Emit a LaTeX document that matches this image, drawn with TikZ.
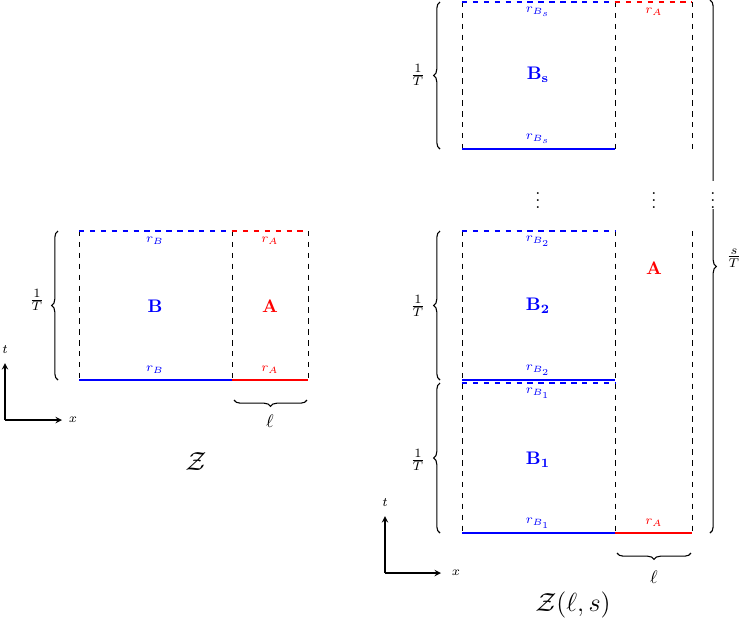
\documentclass[tikz,border=0pt]{standalone}
\usetikzlibrary{decorations.pathreplacing}
\begin{document}
\begin{tikzpicture}[x=0.55pt,y=-0.55pt,
  bl/.style={blue,line width=0.8pt},
  rd/.style={red,line width=0.8pt},
  vd/.style={dashed,black,line width=0.4pt},
  br/.style={decorate,decoration={brace,amplitude=3.5pt},line width=0.6pt},
  lab/.style={font=\scriptsize},
  ax/.style={->,line width=0.6pt,>=stealth}]
\useasboundingbox (0,0) rectangle (747,626);
% ---------- left
\draw[vd] (79,231)--(79,380) (232,231)--(232,380) (308,231)--(308,380);
\draw[bl,dashed] (79,231)--(232,231);
\draw[rd,dashed] (232,231)--(308,231);
\draw[bl] (79,380)--(232,380);
\draw[rd] (232,380)--(308,380);
\node[lab,blue] (lrb1) at (155,241) {$r_B$};
\node[lab,blue] (lrb2) at (155,370) {$r_B$};
\node[lab,red] (lra1) at (270,241) {$r_A$};
\node[lab,red] (lra2) at (270,370) {$r_A$};
\node[blue] (lB) at (155,306) {$\mathbf{B}$};
\node[red] (lA) at (270,306) {$\mathbf{A}$};
\draw[br] (58,380)--(58,231);
\node (lT) at (37,300) {$\frac{1}{T}$};
\draw[br] (307,400)--(234,400);
\node (ll) at (270,421) {$\ell$};
\coordinate (lo) at (5,420);
\draw[ax] (lo)--(5,363);
\draw[ax] (lo)--(62,420);
\node[lab] at (5,350) {$t$};
\node[lab] at (73,420) {$x$};
\node[font=\Large] (lZ) at (196,462) {$\mathcal{Z}$};
% ---------- right
\foreach \a/\b in {2/149,231/533}{
  \draw[vd] (462,\a)--(462,\b) (615,\a)--(615,\b) (692,\a)--(692,\b);}
\draw[bl,dashed] (462,2)--(615,2);
\draw[rd,dashed] (615,2)--(692,2);
\draw[bl] (462,149)--(615,149);
\draw[bl,dashed] (462,231)--(615,231);
\draw[bl] (462,380)--(615,380);
\draw[bl,dashed] (462,383)--(615,383);
\draw[bl] (462,533)--(615,533);
\draw[rd] (615,533)--(692,533);
\node[lab,blue] at (538,12) {$r_{B_s}$};
\node[lab,blue] at (538,139) {$r_{B_s}$};
\node[lab,red] at (654,12) {$r_A$};
\node[lab,blue] at (538,241) {$r_{B_2}$};
\node[lab,blue] at (538,370) {$r_{B_2}$};
\node[lab,blue] at (538,393) {$r_{B_1}$};
\node[lab,blue] at (538,523) {$r_{B_1}$};
\node[lab,red] at (654,523) {$r_A$};
\node[blue] (Bs) at (538,75) {$\mathbf{B_s}$};
\node[blue] (B2) at (538,306) {$\mathbf{B_2}$};
\node[blue] (B1) at (538,460) {$\mathbf{B_1}$};
\node[red] (rA) at (654,268) {$\mathbf{A}$};
\node[inner sep=0pt] at (538,195) {$\vdots$};
\node[inner sep=0pt] at (654,195) {$\vdots$};
\draw[br] (440,149)--(440,2);
\draw[br] (440,380)--(440,231);
\draw[br] (440,533)--(440,383);
\node at (418,75) {$\frac{1}{T}$};
\node at (418,306) {$\frac{1}{T}$};
\node at (418,460) {$\frac{1}{T}$};
\draw[br] (710,0)--(710,533);
\node[fill=white,inner sep=0pt] at (713,195) {$\vdots$};
\node at (734,258) {$\frac{s}{T}$};
\draw[br] (691,553)--(617,553);
\node at (654,577) {$\ell$};
\coordinate (ro) at (385,573);
\draw[ax] (ro)--(385,516);
\draw[ax] (ro)--(441,573);
\node[lab] at (385,503) {$t$};
\node[lab] at (456,573) {$x$};
\node[font=\Large] at (573,605) {$\mathcal{Z}(\ell,s)$};
\end{tikzpicture}
\end{document}
